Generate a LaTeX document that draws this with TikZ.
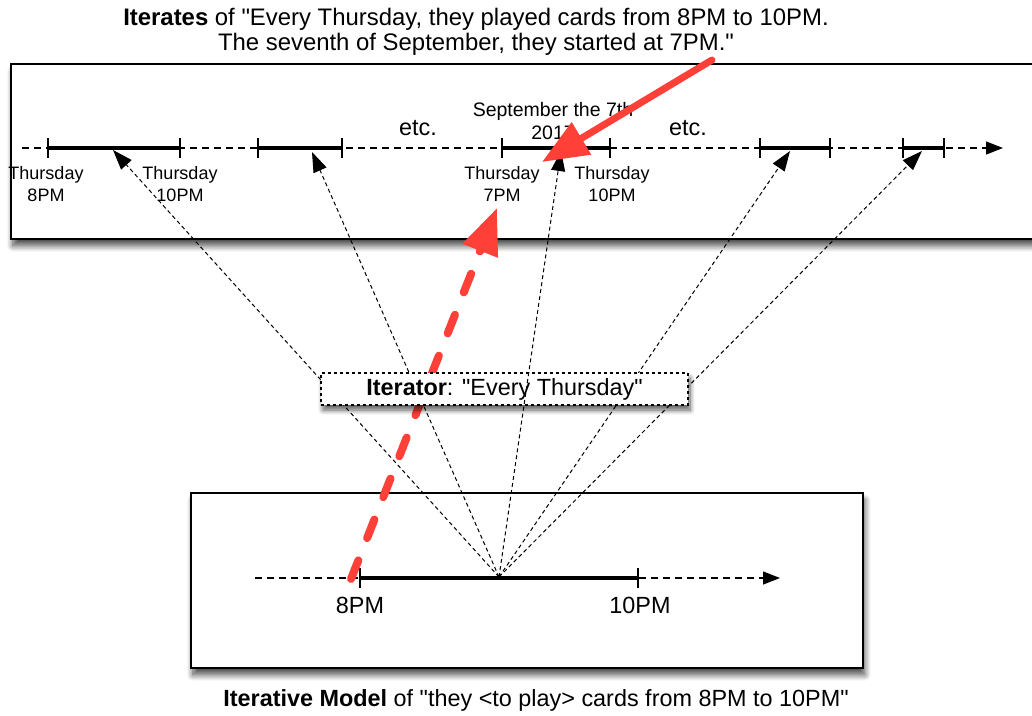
\documentclass[tikz,border=0pt]{standalone}
\usepackage{fontspec}
\setmainfont{Liberation Sans}[Ligatures=TeXOff]
\usetikzlibrary{arrows.meta,shadows.blur,calc}
\definecolor{redarrow}{RGB}{255,64,56}
\tikzset{
  panel/.style={draw=black, line width=1.8pt, fill=white,
    blur shadow={shadow blur steps=10, shadow xshift=2pt, shadow yshift=-7pt, shadow blur radius=6pt, shadow opacity=70}},
  iterbox/.style={draw=black, line width=1.3pt, dashed, fill=white,
    blur shadow={shadow blur steps=8, shadow xshift=2pt, shadow yshift=-5pt, shadow blur radius=5pt, shadow opacity=65}},
  timeline/.style={line width=1.3pt, dash pattern=on 7pt off 5pt,
    -{Triangle[length=17pt,width=13pt]}},
  seg/.style={line width=3.4pt},
  tick/.style={line width=2.8pt},
  proj/.style={line width=1pt, dash pattern=on 4pt off 3pt,
    -{Triangle[length=20pt,width=14pt]}},
  lbl/.style={font=\fontsize{18}{22}\selectfont, align=center, inner sep=0pt},
  big/.style={font=\fontsize{23.9}{25}\selectfont, align=center, inner sep=0pt},
  mid/.style={font=\fontsize{23.4}{25}\selectfont, align=center, inner sep=0pt},
  redsolid/.style={draw=redarrow, line width=7pt,
    -{Triangle[length=46pt,width=36pt]}},
  reddash/.style={draw=redarrow, line width=8pt, line cap=round,
    dash pattern=on 20pt off 24pt, -{Triangle[length=46pt,width=36pt]}}
}
\begin{document}
\begin{tikzpicture}[x=1pt,y=-1pt]
\useasboundingbox (0,0) rectangle (1032,715);

% titles
\node[big] (title) at (476,32) {\textbf{Iterates} of "Every Thursday, they played cards from 8PM to 10PM.\\The seventh of September, they started at 7PM."};
\node[mid] (caption) at (536,700) {\textbf{Iterative Model} of "they <to play> cards from 8PM to 10PM"};

% panels
\node[panel, minimum width=1035pt, minimum height=175pt, anchor=north west, inner sep=0pt] (top) at (10,63) {};
\node[panel, minimum width=672pt, minimum height=175pt, anchor=north west, inner sep=0pt] (bottom) at (190,492) {};

% top timeline
\coordinate (ts) at (22,148);
\coordinate (te) at (1003,148);
\draw[timeline] (ts) -- (te);
\foreach \a/\b/\n in {48/180/1, 258/342/2, 502/610/3, 760/830/4, 903/944/5}{
  \coordinate (s\n a) at (\a,148);
  \coordinate (s\n b) at (\b,148);
  \draw[seg] (s\n a) -- (s\n b);
  \draw[tick] ($(s\n a)+(0,-10)$) -- ($(s\n a)+(0,10)$);
  \draw[tick] ($(s\n b)+(0,-10)$) -- ($(s\n b)+(0,10)$);
}
\node[lbl] (l1) at (46,184) {Thursday\\8PM};
\node[lbl] (l2) at (180,184) {Thursday\\10PM};
\node[lbl] (l3) at (502,184) {Thursday\\7PM};
\node[lbl] (l4) at (612,184) {Thursday\\10PM};
\node[lbl, font=\fontsize{19.5}{23}\selectfont] (sep) at (553,121) {September the 7th\\2017};
\node[mid] (etc1) at (418,128) {etc.};
\node[mid] (etc2) at (688,128) {etc.};

% bottom timeline
\coordinate (bs) at (255,578);
\coordinate (be) at (780,578);
\draw[timeline] (bs) -- (be);
\coordinate (b8) at (360,578);
\coordinate (b10) at (638,578);
\draw[seg] (b8) -- (b10);
\draw[tick] ($(b8)+(0,-10)$) -- ($(b8)+(0,10)$);
\draw[tick] ($(b10)+(0,-10)$) -- ($(b10)+(0,10)$);
\node[mid] (p8) at (360,605) {8PM};
\node[mid] (p10) at (640,605) {10PM};

% projections
\coordinate (src) at (499,577);
\coordinate (t1) at (113,150);
\coordinate (t2) at (312,152);
\coordinate (t3) at (561,151);
\coordinate (t4) at (790,151);
\coordinate (t5) at (922,151);
\draw[proj] (src) -- (t1);
\draw[proj] (src) -- (t2);
\draw[proj] (src) -- (t4);
\draw[proj] (src) -- (t5);

% red dashed arrow
\coordinate (rds) at (351,579);
\coordinate (rde) at (497,208);
\draw[reddash] (rds) -- (rde);

% iterator box
\node[iterbox, minimum width=367pt, minimum height=32pt, inner sep=0pt] (iter) at (504.5,389) {};
\node[mid] (itertext) at (iter.center) {\textbf{Iterator}: "Every Thursday"};
\draw[proj] (src) -- (t3);

% red solid arrow
\coordinate (rss) at (712,60);
\coordinate (rse) at (542,162);
\draw[redsolid, line cap=round] (rss) -- (rse);
\end{tikzpicture}
\end{document}
